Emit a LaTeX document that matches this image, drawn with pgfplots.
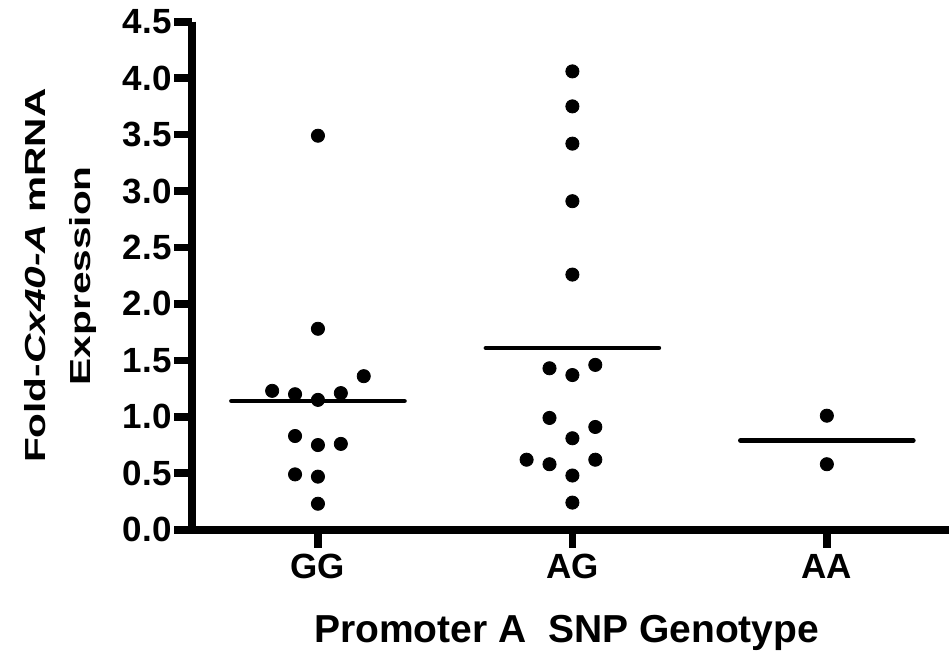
\documentclass[border=0pt]{standalone}
\usepackage{fontspec}
\setmainfont{Liberation Sans}
\usepackage{graphicx}
\usepackage{pgfplots}
\pgfplotsset{compat=1.18}
\begin{document}
\begin{tikzpicture}
\begin{axis}[
at={(0,0)}, anchor=south west,
scale only axis,
width=378.5pt, height=254pt,
clip=false,
xmin=-0.495, xmax=2.48,
ymin=0, ymax=4.5,
axis lines=left,
axis line style={-},
tick align=outside,
major tick length=9pt,
xtick={0,1,2},
xticklabels={GG,AG,AA},
ytick={0,0.5,1,1.5,2,2.5,3,3.5,4,4.5},
yticklabels={0.0,0.5,1.0,1.5,2.0,2.5,3.0,3.5,4.0,4.5},
tick label style={font=\bfseries\fontsize{17.5}{20}\selectfont},
xticklabel style={inner sep=3pt},
yticklabel style={inner sep=1pt},
xlabel={Promoter A\ \ SNP Genotype},
xlabel style={font=\bfseries\fontsize{19.5}{22}\selectfont, at={(axis description cs:0.495,-0.222)}, anchor=base},
ylabel={\scalebox{1.4}[1]{Fold-\textit{Cx40-A} mRNA}\\\scalebox{1.4}[1]{Expression}},
ylabel style={font=\bfseries\fontsize{14.5}{22.5}\selectfont, align=center, inner sep=0pt, at={(axis description cs:-0.125,0.5)}, anchor=south},
]
% GG
\addplot [only marks, mark=*, mark size=3.3pt, black, line width=0.4pt] coordinates {
(0,3.49) (0,1.78) (0.18,1.36) (-0.18,1.23) (-0.09,1.20) (0,1.15) (0.09,1.21)
(-0.09,0.83) (0,0.75) (0.09,0.76) (-0.09,0.49) (0,0.47) (0,0.23)
};
% AG
\addplot [only marks, mark=*, mark size=3.3pt, black, line width=0.4pt] coordinates {
(1,4.06) (1,3.75) (1,3.42) (1,2.91) (1,2.26)
(0.91,1.43) (1,1.37) (1.09,1.46) (0.91,0.99) (1.09,0.91) (1,0.81)
(0.82,0.62) (0.91,0.58) (1.09,0.62) (1,0.48) (1,0.24)
};
% AA
\addplot [only marks, mark=*, mark size=3.3pt, black, line width=0.4pt] coordinates {
(2,1.01) (2,0.58)
};
% means
\addplot [black, line width=2.3pt, line cap=round] coordinates {(-0.34,1.14) (0.34,1.14)};
\addplot [black, line width=2.3pt, line cap=round] coordinates {(0.66,1.61) (1.34,1.61)};
\addplot [black, line width=2.3pt, line cap=round] coordinates {(1.66,0.79) (2.34,0.79)};
% heavy axis frame and ticks drawn over the default ones
\draw [black, line width=4pt, line join=miter] (axis cs:-0.495,4.5) -- (axis cs:-0.495,0) -- (axis cs:2.48,0);
\pgfplotsinvokeforeach{0,0.5,1,1.5,2,2.5,3,3.5,4,4.5}{
  \draw [black, line width=3.8pt] (axis cs:-0.495,#1) -- (axis cs:-0.566,#1);
}
\pgfplotsinvokeforeach{0,1,2}{
  \draw [black, line width=3.8pt] (axis cs:#1,0) -- (axis cs:#1,-0.16);
}
\end{axis}
\pgfresetboundingbox
\path[use as bounding box] (-96pt,-62.5pt) rectangle (378.5pt,264.85pt);
\end{tikzpicture}
\end{document}
